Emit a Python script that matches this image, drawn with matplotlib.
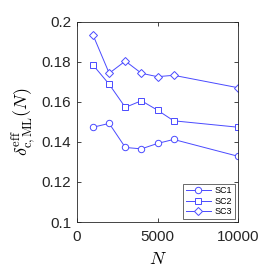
import matplotlib
matplotlib.use("Agg")
import matplotlib.pyplot as plt
from matplotlib.ticker import FixedLocator, FixedFormatter

plt.rcParams["font.family"] = ["Liberation Sans", "DejaVu Sans"]
plt.rcParams["mathtext.fontset"] = "cm"

n_values = [1000, 2000, 3000, 4000, 5000, 6000, 10000]
sc1 = [0.1473, 0.1492, 0.1372, 0.1365, 0.1392, 0.1412, 0.1328]
sc2 = [0.1783, 0.1687, 0.1572, 0.1605, 0.1558, 0.1505, 0.1473]
sc3 = [0.1932, 0.1742, 0.1803, 0.1742, 0.1725, 0.1732, 0.1670]
series_labels = ["SC1", "SC2", "SC3"]
markers = ["o", "s", "D"]

y_ticks = [0.1, 0.12, 0.14, 0.16, 0.18, 0.2]
y_tick_labels = ["0.1", "0.12", "0.14", "0.16", "0.18", "0.2"]
x_ticks = [0, 5000, 10000]
x_tick_labels = ["0", "5000", "10000"]

line_color = "#4a4aff"
frame_color = "#262626"

fig = plt.figure(figsize=(2.73, 2.80), dpi=100)
ax = fig.add_axes([0.282, 0.207, 0.590, 0.716])

for vals, lab, mk in zip([sc1, sc2, sc3], series_labels, markers):
    ax.plot(n_values, vals, color=line_color, lw=0.7, marker=mk,
            markersize=4.6 if mk != "D" else 4.0, markerfacecolor="white",
            markeredgecolor=line_color, markeredgewidth=0.7, label=lab)

ax.set_xlim(0, 10000)
ax.set_ylim(0.1, 0.2)
ax.xaxis.set_major_locator(FixedLocator(x_ticks))
ax.xaxis.set_major_formatter(FixedFormatter(x_tick_labels))
ax.yaxis.set_major_locator(FixedLocator(y_ticks))
ax.yaxis.set_major_formatter(FixedFormatter(y_tick_labels))
ax.tick_params(direction="in", top=True, right=True, length=3, width=0.6,
               color=frame_color, labelsize=11, labelcolor="#262626")
ax.tick_params(axis="x", pad=6)
ax.tick_params(axis="y", pad=4)
for sp in ax.spines.values():
    sp.set_color(frame_color)
    sp.set_linewidth(0.6)

ax.set_xlabel(r"$N$", fontsize=13, labelpad=5)
ax.set_ylabel(r"$\delta^{\rm eff}_{\rm c,ML}(N)$", fontsize=13, labelpad=3)

leg = ax.legend(loc="lower right", fontsize=6.5, frameon=True, fancybox=False,
                handlelength=2.8, borderpad=0.3, labelspacing=0.15,
                handletextpad=0.4, borderaxespad=0.35)
leg.get_frame().set_edgecolor(frame_color)
leg.get_frame().set_linewidth(0.6)

fig.savefig("out.png", dpi=100)
